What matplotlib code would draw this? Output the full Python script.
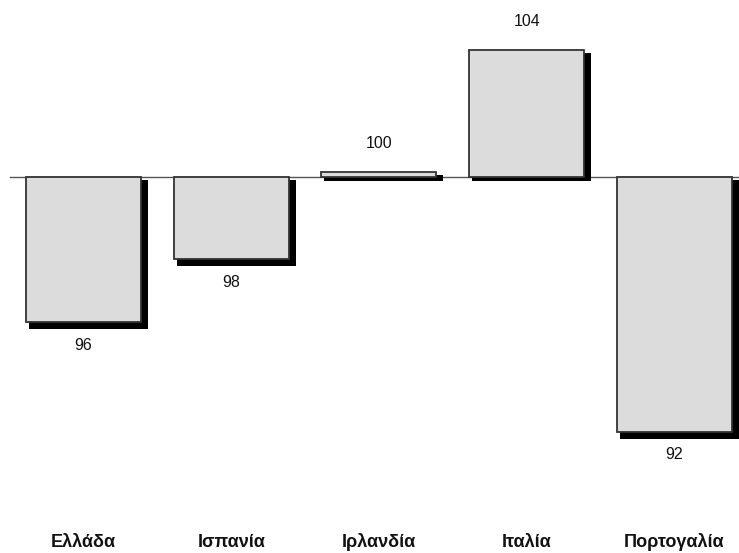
import matplotlib
matplotlib.use("Agg")
import matplotlib.pyplot as plt
from matplotlib.patches import Rectangle
from matplotlib import transforms
from matplotlib import font_manager

categories = ["Ελλάδα", "Ισπανία", "Ιρλανδία", "Ιταλία", "Πορτογαλία"]
values = [95.67, 97.55, 100.16, 103.8, 92.39]
value_labels = ["96", "98", "100", "104", "92"]
base = 100

avail = {f.name for f in font_manager.fontManager.ttflist}
narrow = "Liberation Sans Narrow" if "Liberation Sans Narrow" in avail else "Liberation Sans"
fam = [narrow, "DejaVu Sans"]

W, H = 739, 553
fig = plt.figure(figsize=(W / 100, H / 100), dpi=100)
ax = fig.add_axes([0, 0, 1, 1])
ax.set_axis_off()

px_x = 147.75  # pixels per category
px_y = 33.5    # pixels per unit
x0 = -83.5 / px_x
ax.set_xlim(x0, x0 + W / px_x)
top = base + 177 / px_y
ax.set_ylim(top - H / px_y, top)

bw = 115 / px_x
# baseline
ax.plot([x0 + 10 / px_x, x0 + W / px_x], [base, base], color="#555555", lw=1.0, zorder=1)

for i, (v, lab) in enumerate(zip(values, value_labels)):
    left = i - bw / 2
    lo, hi = min(v, base), max(v, base)
    bot_off = 7 if v < base else 4
    sh = Rectangle((left + 3 / px_x, lo - bot_off / px_y),
                   bw + 4 / px_x, (hi - lo) - 3 / px_y + bot_off / px_y,
                   facecolor="black", edgecolor="none", zorder=2)
    ax.add_patch(sh)
    ax.add_patch(Rectangle((left, lo), bw, hi - lo, facecolor="#dcdcdc",
                           edgecolor="#333333", lw=1.3, zorder=3))
    if v >= base:
        ax.annotate(lab, (i, hi), xytext=(0, 28), textcoords="offset pixels",
                    ha="center", va="center", fontsize=11.5, family=fam, color="#111111")
    else:
        ax.annotate(lab, (i, lo), xytext=(0, -23), textcoords="offset pixels",
                    ha="center", va="center", fontsize=11.5, family=fam, color="#111111")

trans = transforms.blended_transform_factory(ax.transData, ax.transAxes)
for i, c in enumerate(categories):
    ax.text(i, 6 / H, c, transform=trans, ha="center", va="baseline",
            fontsize=13, fontweight="bold", family=fam, color="#111111")

fig.savefig("out.png", dpi=100)
